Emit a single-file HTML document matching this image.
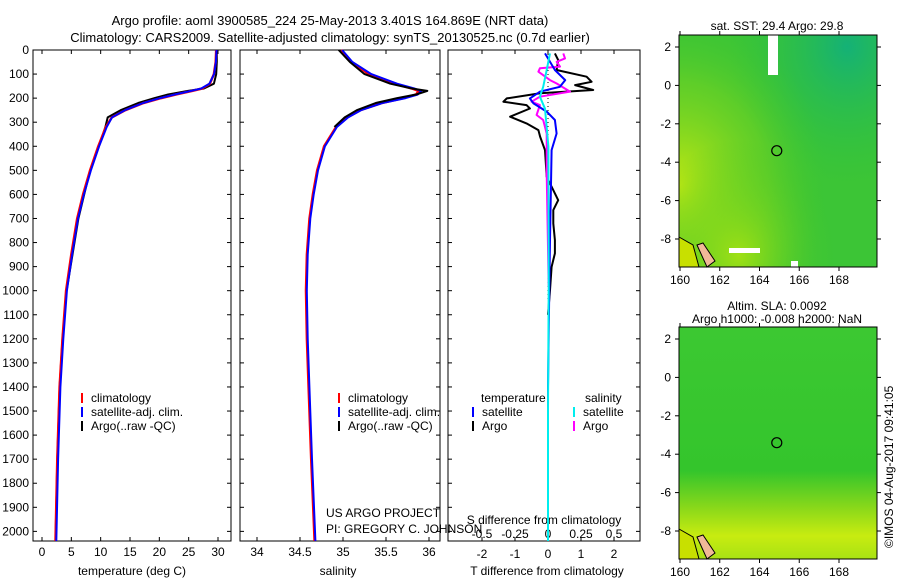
<!DOCTYPE html>
<html><head><meta charset="utf-8"><style>
html,body{margin:0;padding:0;background:#fff;}
svg text{font-family:"Liberation Sans",sans-serif;font-size:12px;fill:#000;}
</style></head><body>
<svg id="fig" width="900" height="580" xmlns="http://www.w3.org/2000/svg">
<defs>
<radialGradient id="yl" cx="0" cy="0.65" r="0.75">
<stop offset="0" stop-color="#c8ea10" stop-opacity="0.95"/><stop offset="0.6" stop-color="#80d61c" stop-opacity="0.5"/><stop offset="1" stop-color="#40c62a" stop-opacity="0"/></radialGradient>
<radialGradient id="yl2" cx="0.3" cy="0.95" r="0.5">
<stop offset="0" stop-color="#a6e212" stop-opacity="0.9"/><stop offset="1" stop-color="#40c62a" stop-opacity="0"/></radialGradient>
<radialGradient id="tl" cx="0.85" cy="0.05" r="0.6">
<stop offset="0" stop-color="#12b07a" stop-opacity="0.95"/><stop offset="1" stop-color="#2abf40" stop-opacity="0"/></radialGradient>
<linearGradient id="g2" x1="0" y1="0" x2="0" y2="1">
<stop offset="0" stop-color="#3cc832"/><stop offset="0.62" stop-color="#34c52c"/><stop offset="0.78" stop-color="#8ad81a"/><stop offset="0.9" stop-color="#c8ec10"/><stop offset="1" stop-color="#a8e214"/></linearGradient>
</defs>
<text x="330" y="25" text-anchor="middle" style="font-size:13px">Argo profile: aoml 3900585_224 25-May-2013 3.401S 164.869E (NRT data)</text>
<text x="330" y="42" text-anchor="middle" style="font-size:13px">Climatology: CARS2009. Satellite-adjusted climatology: synTS_20130525.nc (0.7d earlier)</text>
<g id="p1"></g>
<g id="p2"></g>
<g id="p3"></g>
<g id="m1"></g>
<g id="m2"></g>
<text transform="translate(893,548) rotate(-90)">©IMOS 04-Aug-2017 09:41:05</text>
</svg>
<script>
// ---- data ----
const depthTicks=[0,100,200,300,400,500,600,700,800,900,1000,1100,1200,1300,1400,1500,1600,1700,1800,1900,2000];
const tempTicks=[0,5,10,15,20,25,30];
const salTicks=[34,34.5,35,35.5,36];
const salTickLabels=["34","34.5","35","35.5","36"];
const tdTicks=[-2,-1,0,1,2];
const sdTickLabels=["-0.5","-0.25","0","0.25","0.5"];
const profDepths=[0,50,100,140,160,170,185,200,220,250,280,320,400,500,600,700,850,1000,1200,1400,1700,2040];
const tempClim=[29.7,29.6,29.3,28.6,27.3,25.6,22.8,20.3,17.3,14.2,11.9,10.9,9.6,8.2,7.0,6.0,5.0,4.1,3.5,3.0,2.6,2.3];
const tempSat=[29.6,29.5,29.2,28.4,27.0,25.3,22.5,20.0,17.1,14.0,11.8,10.9,9.6,8.2,7.0,6.0,5.0,4.1,3.5,3.0,2.6,2.3];
const argoDepths=[0,50,100,140,160,170,185,200,220,250,280,320,400,500,600,700,850,1000,1200,1400,1700,2040];
const tempArgo=[29.8,29.8,29.7,29.3,27.6,24.9,21.5,19.2,16.4,13.4,11.2,10.8,9.7,8.2,7.2,6.2,5.2,4.2,3.5,3.0,2.6,2.3];
const salClim=[34.98,35.1,35.3,35.6,35.8,35.88,35.85,35.7,35.45,35.2,35.05,34.92,34.78,34.7,34.65,34.61,34.58,34.57,34.58,34.6,34.63,34.67];
const salSat=[34.98,35.1,35.32,35.62,35.82,35.9,35.86,35.72,35.45,35.2,35.05,34.92,34.78,34.7,34.65,34.61,34.58,34.57,34.58,34.6,34.63,34.67];
const salArgo=[34.95,35.08,35.25,35.55,35.8,35.98,35.85,35.63,35.38,35.16,35.02,34.9,34.78,34.7,34.65,34.62,34.59,34.58,34.58,34.6,34.63,34.67];
const tdArgoDepths=[14,42,83,111,132,146,166,180,201,215,229,243,277,305,333,360,416,527,568,624,665,721,790,845,901,998,1100];
const tdArgo=[0.21,0.31,0.26,1.17,1.32,0.82,1.37,-0.24,-1.25,-1.35,-0.65,-0.55,-1.15,-0.65,-0.29,-0.24,-0.09,-0.04,0.11,0.31,0.16,0.16,0.21,0.21,0.11,0.06,0.0];
const tdSatDepths=[14,83,125,153,173,201,222,256,291,347,416,790,984,1400,1700];
const tdSat=[-0.09,0.21,0.52,0.36,-0.24,-0.55,-0.44,-0.04,0.21,0.26,0.11,0.06,0.04,0.0,0.0];
const sdArgoDepths=[14,35,49,69,76,90,125,139,173,194,215,229,270,291,347,513,984];
const sdArgo=[0.116,0.129,0.066,0.091,-0.061,-0.073,0.015,0.066,0.167,-0.061,-0.124,-0.061,-0.086,-0.036,-0.01,-0.01,0.005];
const sdSatDepths=[14,83,153,194,244,400,984,1500,2040];
const sdSat=[0.015,-0.01,-0.036,-0.061,-0.023,0.003,0.005,0.0,0.0];
const mapLonTicks=[160,162,164,166,168];
const mapLatTicks=[2,0,-2,-4,-6,-8];

const NS="http://www.w3.org/2000/svg";
function el(p,t,a,txt){const e=document.createElementNS(NS,t);for(const k in a)e.setAttribute(k,a[k]);if(txt!==undefined)e.textContent=txt;p.appendChild(e);return e;}
const PT=50,PB=541,DMAX=2040;
const yD=d=>PT+d/DMAX*(PB-PT);
function lin(d0,d1,r0,r1){return v=>r0+(v-d0)/(d1-d0)*(r1-r0);}
function line(g,xs,ds,xf,color,w,name){
  const pts=xs.map((v,i)=>xf(v).toFixed(1)+","+yD(ds[i]).toFixed(1)).join(" ");
  const l=el(g,"polyline",{points:pts,fill:"none",stroke:color,"stroke-width":w,"stroke-linejoin":"round"});
  
  
}
function frame(g,x0,x1,name){
  const r=el(g,"rect",{x:x0,y:PT,width:x1-x0,height:PB-PT,fill:"none",stroke:"#000","stroke-width":1});
  
  
  depthTicks.forEach(d=>{el(g,"line",{x1:x0,x2:x0+4,y1:yD(d),y2:yD(d),stroke:"#000"});el(g,"line",{x1:x1,x2:x1-4,y1:yD(d),y2:yD(d),stroke:"#000"});});
}
function legend(g,x,y,items){
  items.forEach((it,i)=>{
    const yy=y+i*14;
    el(g,"line",{x1:x,x2:x,y1:yy-5,y2:yy+5,stroke:it[1],"stroke-width":2});
    const t=el(g,"text",{x:x+9,y:yy+4},it[0]);
    
    
  });
}
// panel 1
(function(){
  const g=document.getElementById("p1"),x0=33,x1=231;
  const xf=lin(0,30,42,218);
  frame(g,x0,x1,"temperature-plot-frame");
  depthTicks.forEach(d=>{const t=el(g,"text",{x:x0-4,y:yD(d)+4,"text-anchor":"end"},String(d));});
  tempTicks.forEach(v=>{el(g,"line",{x1:xf(v),x2:xf(v),y1:PB,y2:PB-4,stroke:"#000"});el(g,"line",{x1:xf(v),x2:xf(v),y1:PT,y2:PT+4,stroke:"#000"});
    const t=el(g,"text",{x:xf(v),y:PB+15,"text-anchor":"middle"},String(v));});
  const xl=el(g,"text",{x:132,y:575,"text-anchor":"middle"},"temperature (deg C)");
  line(g,tempArgo,argoDepths,xf,"#000",2,"temperature-argo-line");
  line(g,tempClim,profDepths,xf,"#f00",2.5,"temperature-climatology-line");
  line(g,tempSat,profDepths,v=>xf(v)+0.8,"#00f",2,"temperature-satellite-line");
  legend(g,82,398,[["climatology","#f00"],["satellite-adj. clim.","#00f"],["Argo(..raw -QC)","#000"]]);
})();
// panel 2
(function(){
  const g=document.getElementById("p2"),x0=240,x1=440;
  const xf=lin(34,36,257,429);
  frame(g,x0,x1,"salinity-plot-frame");
  salTicks.forEach((v,i)=>{el(g,"line",{x1:xf(v),x2:xf(v),y1:PB,y2:PB-4,stroke:"#000"});el(g,"line",{x1:xf(v),x2:xf(v),y1:PT,y2:PT+4,stroke:"#000"});
    const t=el(g,"text",{x:xf(v),y:PB+15,"text-anchor":"middle"},salTickLabels[i]);});
  const xl=el(g,"text",{x:338,y:575,"text-anchor":"middle"},"salinity");
  line(g,salClim,profDepths,xf,"#f00",2.5,"salinity-climatology-line");
  line(g,salSat,profDepths,v=>xf(v)+0.8,"#00f",2,"salinity-satellite-line");
  line(g,salArgo.slice(0,12),argoDepths.slice(0,12),xf,"#000",2,"salinity-argo-line");
  legend(g,339,398,[["climatology","#f00"],["satellite-adj. clim.","#00f"],["Argo(..raw -QC)","#000"]]);
  const a=el(g,"text",{x:326,y:517},"US ARGO PROJECT");
  const b=el(g,"text",{x:326,y:533},"PI: GREGORY C. JOHNSON");
})();
// panel 3
(function(){
  const g=document.getElementById("p3"),x0=448,x1=640;
  const xt=lin(0,1,548,581), xs=lin(0,0.25,548,581);
  frame(g,x0,x1,"difference-plot-frame");
  tdTicks.forEach((v,i)=>{el(g,"line",{x1:xt(v),x2:xt(v),y1:PB,y2:PB-4,stroke:"#000"});el(g,"line",{x1:xt(v),x2:xt(v),y1:PT,y2:PT+4,stroke:"#000"});
    const t=el(g,"text",{x:xt(v),y:558,"text-anchor":"middle"},String(v));
    const s=el(g,"text",{x:xt(v),y:538,"text-anchor":"middle"},sdTickLabels[i]);});
  const s1=el(g,"text",{x:544,y:524,"text-anchor":"middle"},"S difference from climatology");
  const t1=el(g,"text",{x:547,y:575,"text-anchor":"middle"},"T difference from climatology");
  el(g,"line",{x1:548,x2:548,y1:PT,y2:300,stroke:"#000","stroke-dasharray":"1,3"});
  line(g,tdArgo,tdArgoDepths,xt,"#000",2,"t-diff-argo-line");
  line(g,sdArgo,sdArgoDepths,xs,"#f0f",2,"s-diff-argo-line");
  line(g,tdSat,tdSatDepths,xt,"#00f",2,"t-diff-satellite-line");
  line(g,sdSat,sdSatDepths,xs,"#0ee",2,"s-diff-satellite-line");
  const h1=el(g,"text",{x:481,y:402},"temperature");
  const h2=el(g,"text",{x:585,y:402},"salinity");
  legend(g,473,412,[["satellite","#00f"],["Argo","#000"]]);
  legend(g,574,412,[["satellite","#0ee"],["Argo","#f0f"]]);
})();
// maps
function map(id,top,bg,title1,title2,extra){
  const g=document.getElementById(id),x0=679,x1=877,y0=top,y1=top+232;
  const xf=lin(160,168,680,839), yf=lin(2,-8,top+12,top+204);
  el(g,"rect",{x:x0,y:y0,width:x1-x0,height:y1-y0,fill:bg});
  extra(g);
  el(g,"path",{d:`M${x0} ${y1-30} l14 8 l6 22 l-20 0 z`,fill:"#c8e000",stroke:"#000","stroke-width":1});
  el(g,"path",{d:`M${x0+18} ${y1-22} l6 -2 l12 18 l-8 6 z`,fill:"#f0b898",stroke:"#000","stroke-width":1});
  const r=el(g,"rect",{x:x0,y:y0,width:x1-x0,height:y1-y0,fill:"none",stroke:"#000"});
  
  
  el(g,"circle",{cx:xf(164.869),cy:yf(-3.401),r:5,fill:"none",stroke:"#000","stroke-width":1.2});
  mapLonTicks.forEach(v=>{el(g,"line",{x1:xf(v),x2:xf(v),y1:y1,y2:y1+4,stroke:"#000"});el(g,"line",{x1:xf(v),x2:xf(v),y1:y0,y2:y0-4,stroke:"#000"});
    const t=el(g,"text",{x:xf(v),y:y1+17,"text-anchor":"middle"},String(v));});
  mapLatTicks.forEach(v=>{el(g,"line",{x1:x0,x2:x0-4,y1:yf(v),y2:yf(v),stroke:"#000"});el(g,"line",{x1:x1,x2:x1+4,y1:yf(v),y2:yf(v),stroke:"#000"});
    const t=el(g,"text",{x:x0-8,y:yf(v)+4,"text-anchor":"end"},String(v));});
  if(title1){const t=el(g,"text",{x:777,y:top-5,"text-anchor":"middle"},title1);}
  if(title2){const t=el(g,"text",{x:777,y:top-17,"text-anchor":"middle"},title2);
    const t2=el(g,"text",{x:777,y:top-4,"text-anchor":"middle"},"Argo h1000: -0.008 h2000: NaN");}
}
map("m1",35,"#3cc536","sat. SST: 29.4  Argo: 29.8",null,g=>{
  el(g,"rect",{x:679,y:35,width:198,height:232,fill:"url(#tl)"});
  el(g,"rect",{x:679,y:35,width:198,height:232,fill:"url(#yl)"});
  el(g,"rect",{x:679,y:35,width:198,height:232,fill:"url(#yl2)"});
  el(g,"rect",{x:768,y:35,width:10,height:40,fill:"#fff"});
  el(g,"rect",{x:729,y:248,width:31,height:5,fill:"#fff"});
  el(g,"rect",{x:791,y:261,width:7,height:6,fill:"#fff"});
});
map("m2",327,"url(#g2)",null,"Altim. SLA: 0.0092",g=>{});
</script>
</body></html>
